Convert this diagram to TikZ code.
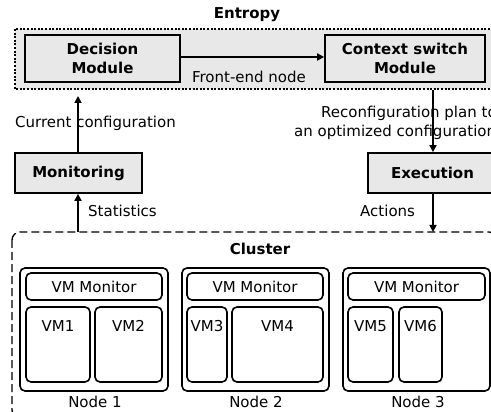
\documentclass[tikz,border=0pt]{standalone}
\usepackage{fontspec}
\setmainfont{DejaVu Sans}
\usetikzlibrary{arrows.meta}
\definecolor{boxgray}{RGB}{232,232,232}
\tikzset{
  txt/.style={font=\fontsize{15}{18.5}\selectfont, inner sep=0pt},
  btxt/.style={font=\fontsize{15}{18.5}\selectfont\bfseries, inner sep=0pt},
  gbox/.style={draw, line width=1.7pt, fill=boxgray, inner sep=0pt, align=center, font=\fontsize{15}{18.5}\selectfont\bfseries},
  rbox/.style={draw, line width=1.6pt, rounded corners=5pt, fill=white, inner sep=0pt, font=\fontsize{15}{18.5}\selectfont},
  conn/.style={line width=1.7pt, -{Triangle[length=7pt,width=7pt]}},
}
\begin{document}
\begin{tikzpicture}[x=1pt,y=-1pt]
\useasboundingbox (0,0) rectangle (491,412);
\clip (0,0) rectangle (491,412);
\fill[white] (0,0) rectangle (491,412);
% Entropy frame
\draw[line width=1.5pt, dash pattern=on 2pt off 1.6pt, fill=boxgray] (15,29) rectangle (520,89);
\node[btxt] (entropy) at (247,15) {Entropy};
\node[gbox, minimum width=155pt, minimum height=47pt] (dec) at (102.5,58.5) {Decision\\Module};
\node[gbox, minimum width=160pt, minimum height=47pt] (ctx) at (405,58.5) {Context switch\\Module};
\draw[conn] (dec.east |- 0,57) -- (ctx.west |- 0,57);
\node[txt] (fe) at (249,77) {Front-end node};
% lower boxes
\node[gbox, minimum width=127pt, minimum height=40pt] (mon) at (78.5,173) {Monitoring};
\node[gbox, minimum width=129pt, minimum height=40pt] (exe) at (432.5,173) {Execution};
\coordinate (uptip) at (78,96);
\coordinate (dnstart) at (433,90);
\draw[conn] (mon.north -| uptip) -- (uptip);
\draw[conn] (dnstart) -- (dnstart |- exe.north);
\node[txt, anchor=west] (cur) at (15,123) {Current configuration};
\node[txt, anchor=west] (rc1) at (321,113) {Reconfiguration plan to};
\node[txt, anchor=west] (rc2) at (294,132) {an optimized configuration};
% cluster
\draw[line width=1.3pt, dash pattern=on 8pt off 4pt, rounded corners=8pt] (12,232) rectangle (497,418);
\coordinate (cltop1) at (78,232);
\coordinate (cltop2) at (433,232);
\draw[conn] (cltop1) -- (cltop1 |- mon.south);
\draw[conn] (cltop2 |- exe.south) -- (cltop2);
\node[txt, anchor=west] (stat) at (88,211) {Statistics};
\node[txt, anchor=west] (act) at (360,211) {Actions};
\node[btxt] (cluster) at (260,249) {Cluster};
% Node 1
\node[rbox, minimum width=148pt, minimum height=123pt] (n1) at (94,329.5) {};
\node[rbox, minimum width=136pt, minimum height=27pt] (vmm1) at (94,286.5) {VM Monitor};
\node[rbox, minimum width=64pt, minimum height=75pt, label={[txt,anchor=center,yshift=-20pt]north:VM1}] (vm1) at (58,344.5) {};
\node[rbox, minimum width=67pt, minimum height=75pt, label={[txt,anchor=center,yshift=-20pt]north:VM2}] (vm2) at (128.5,344.5) {};
\node[txt] (l1) at (95,402) {Node 1};
% Node 2
\node[rbox, minimum width=147pt, minimum height=123pt] (n2) at (255.5,329.5) {};
\node[rbox, minimum width=136pt, minimum height=27pt] (vmm2) at (255,286.5) {VM Monitor};
\node[rbox, minimum width=40pt, minimum height=75pt, label={[txt,anchor=center,yshift=-20pt]north:VM3}] (vm3) at (207,344.5) {};
\node[rbox, minimum width=91pt, minimum height=75pt, label={[txt,anchor=center,yshift=-20pt]north:VM4}] (vm4) at (277.5,344.5) {};
\node[txt] (l2) at (256,402) {Node 2};
% Node 3
\node[rbox, minimum width=147pt, minimum height=123pt] (n3) at (416.5,329.5) {};
\node[rbox, minimum width=137pt, minimum height=27pt] (vmm3) at (416.5,286.5) {VM Monitor};
\node[rbox, minimum width=45pt, minimum height=75pt, label={[txt,anchor=center,yshift=-20pt]north:VM5}] (vm5) at (370.5,344.5) {};
\node[rbox, minimum width=43pt, minimum height=75pt, label={[txt,anchor=center,yshift=-20pt]north:VM6}] (vm6) at (420.5,344.5) {};
\node[txt] (l3) at (418,402) {Node 3};
\end{tikzpicture}
\end{document}
